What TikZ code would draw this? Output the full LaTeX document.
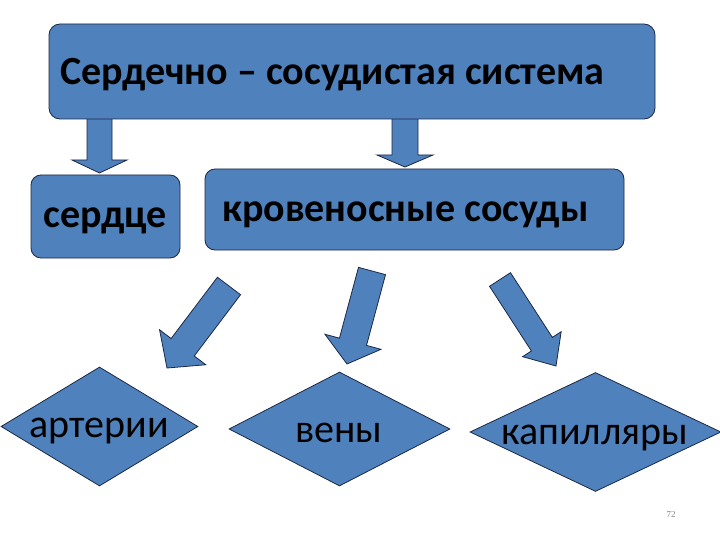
\documentclass[tikz,border=0pt]{standalone}
\usepackage{fontspec}
\setmainfont{Carlito}
\newfontfamily\numfont{Liberation Serif}
\usetikzlibrary{calc,shapes.geometric}
\definecolor{boxblue}{RGB}{79,129,189}
\definecolor{edgecol}{RGB}{28,40,68}
\tikzset{
  shapebase/.style={fill=boxblue, draw=edgecol, line width=0.8pt},
  rbox/.style={shapebase, rectangle, rounded corners=11pt, inner sep=0pt},
  dia/.style={shapebase, diamond, inner sep=0pt},
  arrowshape/.style={shapebase, line join=miter},
  boldlbl/.style={inner sep=0pt, font=\fontsize{40}{48}\selectfont\bfseries},
  lbl/.style={inner sep=0pt, font=\fontsize{40}{48}\selectfont},
}
% #1 tail, #2 tip, #3 half shaft width, #4 half head width, #5 head length
\newcommand\blockarrow[5]{%
  \coordinate (hb) at ($#2!#5pt!#1$);
  \draw[arrowshape] ($#1!#3pt!90:#2$) -- ($(hb)!#3pt!-90:#1$) -- ($(hb)!#4pt!-90:#1$) -- #2
     -- ($(hb)!#4pt!90:#1$) -- ($(hb)!#3pt!90:#1$) -- ($#1!#3pt!-90:#2$) -- cycle;
}
\begin{document}
\begin{tikzpicture}[x=1pt,y=-1pt]
\useasboundingbox (0,0) rectangle (720,540);
% arrows from the top box
\coordinate (a1tail) at (99.5,116);
\coordinate (a1tip) at (99.5,173);
\coordinate (a2tail) at (405,116);
\coordinate (a2tip) at (405,167);
\blockarrow{(a1tail)}{(a1tip)}{12.5}{27.5}{13}
\blockarrow{(a2tail)}{(a2tip)}{13}{28}{12}
% boxes
\node[rbox, minimum width=606pt, minimum height=95pt] (sys) at (352,71.5) {};
\node[rbox, rounded corners=10pt, minimum width=149pt, minimum height=83pt] (heart) at (105.5,216.5) {};
\node[rbox, rounded corners=10pt, minimum width=419pt, minimum height=81pt] (vessels) at (414.5,209.5) {};
\node[boldlbl, anchor=base west] (tsys) at (60,85) {Сердечно – сосудистая система};
\node[boldlbl, anchor=base] (theart) at (105.5,228) {сердце};
\node[boldlbl, anchor=base west] (tvessels) at (222,222) {кровеносные сосуды};
% diagonal arrows
\coordinate (aAtail) at (229,286);
\coordinate (aAtip) at (167,368);
\coordinate (aBtail) at (372,271);
\coordinate (aBtip) at (347,364);
\coordinate (aCtail) at (500,279.5);
\coordinate (aCtip) at (556,366);
\blockarrow{(aAtail)}{(aAtip)}{14.5}{29}{26}
\blockarrow{(aBtail)}{(aBtip)}{14}{29}{23}
\blockarrow{(aCtail)}{(aCtip)}{12.5}{23}{26}
% diamonds
\node[dia, minimum width=197pt, minimum height=119pt] (art) at (99.5,426.5) {};
\node[dia, minimum width=221pt, minimum height=114pt] (ven) at (339.5,429) {};
\node[dia, minimum width=251pt, minimum height=119pt] (cap) at (595.5,432) {};
\node[lbl, anchor=base] (tart) at (99,437) {артерии};
\node[lbl, anchor=base] (tven) at (339,442) {вены};
\node[lbl, anchor=base] (tcap) at (594.5,444) {капилляры};
% page number
\node[inner sep=0pt, text=gray, font=\numfont\fontsize{9}{10}\selectfont] (pnum) at (671,515) {72};
\end{tikzpicture}
\end{document}
